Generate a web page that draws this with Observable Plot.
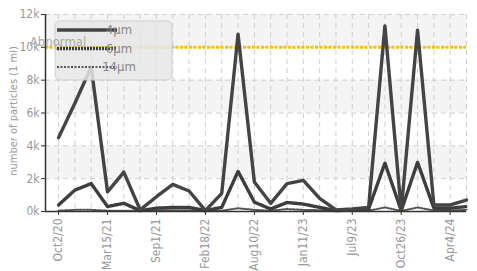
<!DOCTYPE html>
<html>
<head>
<meta charset="utf-8">
<script src="https://cdn.jsdelivr.net/npm/d3@7"></script>
<script src="https://cdn.jsdelivr.net/npm/@observablehq/plot@0.6"></script>
<style>
  html, body { margin: 0; padding: 0; background: #fff; }
  #chart svg { display: block; }
</style>
</head>
<body>
<div id="chart"></div>
<script>
// x tick labels (every third sample is labelled)
const xLabels = ["Oct2/20","Mar15/21","Sep1/21","Feb18/22","Aug10/22","Jan11/23","Jul9/23","Oct26/23","Apr4/24"];
const labelEvery = 3;
// series values (particles per ml), one per sample
const um4  = [4500,6600,8800,1200,2400,100,900,1650,1250,50,1100,10800,1800,500,1700,1900,800,100,150,250,11300,50,11050,400,400,700];
const um6  = [400,1300,1700,300,500,50,200,250,250,50,250,2450,570,150,550,450,250,50,100,150,2950,50,3000,200,200,300];
const um14 = [50,100,100,50,50,30,80,80,80,30,50,200,100,50,150,100,80,30,40,50,250,30,250,60,60,100];
const abnormal = 10000;
const yTicks = [0,2000,4000,6000,8000,10000,12000];
const bands = [[10000,12000],[6000,8000],[2000,4000]];
const seriesNames = ["4\u03bcm","6\u03bcm","14\u03bcm"];
const yLabel = "number of particles (1 ml)";

const idx = um4.map((_, i) => i);
const rows = s => s.map((v, i) => ({i, v}));
const font = "'Liberation Sans Narrow', 'DejaVu Sans Condensed', 'Roboto', sans-serif";

const plot = Plot.plot({
  width: 477,
  height: 271,
  marginLeft: 45,
  marginRight: 11,
  marginTop: 14,
  marginBottom: 60,
  style: {fontFamily: font, fontSize: "12px", color: "#999", background: "#fff"},
  x: {domain: [-0.8, idx.length - 1], axis: null},
  y: {domain: [0, 12000], axis: null},
  marks: [
    Plot.rect(bands, {y1: d => d[0], y2: d => d[1], fill: "#f4f4f4"}),
    Plot.gridY(yTicks, {stroke: "#d0d0d0", strokeOpacity: 1, strokeDasharray: "5,4"}),
    Plot.gridX(idx, {stroke: "#d0d0d0", strokeOpacity: 1, strokeDasharray: "5,4"}),
    Plot.ruleY([abnormal], {stroke: "#f5c400", strokeWidth: 3, strokeDasharray: "3,1.5"}),
    Plot.line(rows(um14), {x: "i", y: "v", stroke: "#555", strokeWidth: 2, strokeDasharray: "2,1.5"}),
    Plot.line(rows(um6), {x: "i", y: "v", stroke: "#3d3d3d", strokeWidth: 3.4, strokeDasharray: "2,1"}),
    Plot.line(rows(um4), {x: "i", y: "v", stroke: "#444", strokeWidth: 3.4}),
    Plot.axisY({ticks: yTicks, tickFormat: d => d / 1000 + "k", tickSize: 4, tickPadding: 2, stroke: "#333", fill: "#999", fontSize: 12, label: null}),
    Plot.text([yLabel], {text: d => d, frameAnchor: "left", dx: -32, dy: -2, rotate: -90, fill: "#999", fontSize: 11, textAnchor: "middle"}),
    Plot.axisX({ticks: xLabels.map((_, k) => k * labelEvery), tickFormat: d => xLabels[d / labelEvery], tickRotate: -90,
      tickSize: 4, tickPadding: 3, stroke: "#333", fill: "#999", fontSize: 12, label: null}),
    Plot.ruleX([-0.8], {stroke: "#333", strokeWidth: 1.5}),
    Plot.ruleY([0], {stroke: "#333", strokeWidth: 1.5})
  ]
});

document.getElementById("chart").appendChild(plot);

// legend drawn inside the svg, top-left of plot
const svg = d3.select(plot);
const lg = svg.append("g").attr("transform", "translate(55,21)");
lg.append("rect").attr("width", 117).attr("height", 59).attr("rx", 5)
  .attr("fill", "#e6e6e6").attr("fill-opacity", 0.85).attr("stroke", "#cfcfcf");
lg.append("text").attr("x", 3).attr("y", 25).text("Abnormal")
  .attr("fill", "#aaa").attr("font-size", 13).attr("font-family", font);
lg.append("rect").attr("x", 1).attr("y", 24).attr("width", 4).attr("height", 4)
  .attr("fill", "#fff").attr("stroke", "#999").attr("stroke-width", 0.8);
lg.append("line").attr("x1", 5).attr("x2", 62).attr("y1", 26).attr("y2", 26)
  .attr("stroke", "#f5c400").attr("stroke-opacity", 0.5).attr("stroke-width", 2).attr("stroke-dasharray", "3,1.5");
const styles = [
  {w: 3.4, dash: null, c: "#444"},
  {w: 3.4, dash: "2,1", c: "#3d3d3d"},
  {w: 2, dash: "2,1.5", c: "#555"}
];
seriesNames.forEach((name, k) => {
  const y = 9 + k * 18.5;
  const ln = lg.append("line").attr("x1", 2).attr("x2", 62).attr("y1", y).attr("y2", y)
    .attr("stroke", styles[k].c).attr("stroke-width", styles[k].w);
  if (styles[k].dash) ln.attr("stroke-dasharray", styles[k].dash);
  lg.append("text").attr("x", 64).attr("y", y + 4).text(name)
    .attr("fill", "#888").attr("font-size", 13).attr("font-family", font);
});
</script>
</body>
</html>
